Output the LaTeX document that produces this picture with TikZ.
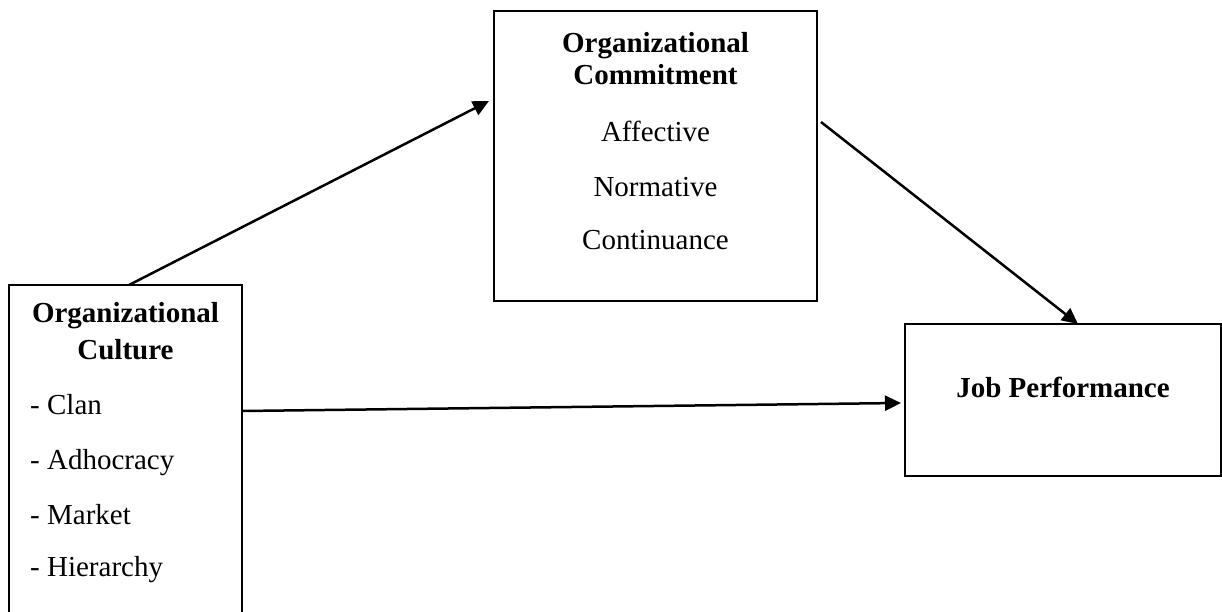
\documentclass[tikz,border=0pt]{standalone}
\usepackage{fontspec}
\setmainfont{Liberation Serif}
\usetikzlibrary{arrows.meta,calc}
\tikzset{
  box/.style={draw=black, line width=2.8pt, rectangle, inner sep=0pt, outer sep=0pt},
  lbl/.style={anchor=base, inner sep=0pt, font=\fontsize{29}{34}\selectfont},
  hd/.style={lbl, font=\fontsize{29}{34}\selectfont\bfseries},
  item/.style={anchor=base west, inner sep=0pt, font=\fontsize{29}{34}\selectfont},
  arr/.style={line width=2.5pt, -{Triangle[length=16pt,width=15pt]}}
}
\begin{document}
\begin{tikzpicture}[x=1pt,y=1pt]
\useasboundingbox (0,0) rectangle (1222,612);
\fill[white] (0,0) rectangle (1222,612);
% boxes
\node[box, minimum width=233pt, minimum height=355pt] (cul) at (125.5,149.5) {};
\node[box, minimum width=323pt, minimum height=290pt] (com) at (655.5,456) {};
\node[box, minimum width=316pt, minimum height=152pt] (job) at (1063,212) {};
% left box texts
\node[hd] (cul1) at (125.5,289) {Organizational};
\node[hd] (cul2) at (125.5,252) {Culture};
\node[item] (c1) at (30,197) {- Clan};
\node[item] (c2) at (30,142) {- Adhocracy};
\node[item] (c3) at (30,87) {- Market};
\node[item] (c4) at (30,35) {- Hierarchy};
% middle box texts
\node[hd] (com1) at (655.5,559) {Organizational};
\node[hd] (com2) at (655.5,527) {Commitment};
\node[lbl] (m1) at (655.5,470) {Affective};
\node[lbl] (m2) at (655.5,415) {Normative};
\node[lbl] (m3) at (655.5,362) {Continuance};
% right box text
\node[hd] (job1) at (1063,214) {Job Performance};
% connectors
\draw[arr] ($(cul.north)+(3.5,0)$) -- ($(com.west)+(-5,55)$);
\draw[arr] ($(com.east)+(4,34)$) -- ($(job.north)+(15,0)$);
\draw[arr] ($(cul.east)+(1,51.5)$) -- ($(job.west)+(-4,-3)$);
\end{tikzpicture}
\end{document}
